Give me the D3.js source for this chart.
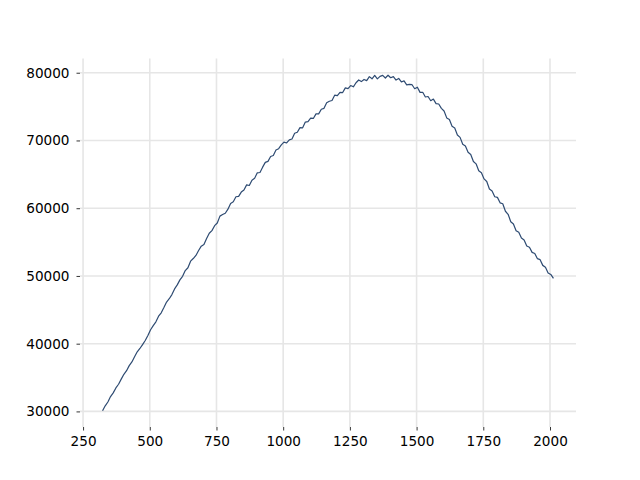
<!DOCTYPE html>
<html>
<head>
<meta charset="utf-8">
<script src="https://cdn.jsdelivr.net/npm/d3@7"></script>
<style>
  html, body { margin: 0; padding: 0; background: #fff; }
  svg { display: block; }
  .tick text { font-family: "DejaVu Sans", sans-serif; font-size: 13.6px; fill: #000; }
</style>
</head>
<body>
<svg id="chart" width="640" height="480"></svg>
<script>
// ---- data ----
const xValues = [
  323, 333, 343, 353, 363, 373, 383, 393, 403, 413,
  423, 433, 443, 453, 463, 473, 483, 493, 503, 513,
  523, 533, 543, 553, 563, 573, 583, 593, 603, 613,
  623, 633, 643, 653, 663, 673, 683, 693, 703, 713,
  723, 733, 743, 753, 763, 773, 783, 793, 803, 813,
  823, 833, 843, 853, 863, 873, 883, 893, 903, 913,
  923, 933, 943, 953, 963, 973, 983, 993, 1003, 1013,
  1023, 1033, 1043, 1053, 1063, 1073, 1083, 1093, 1103, 1113,
  1123, 1133, 1143, 1153, 1163, 1173, 1183, 1193, 1203, 1213,
  1223, 1233, 1243, 1253, 1263, 1273, 1283, 1293, 1303, 1313,
  1323, 1333, 1343, 1353, 1363, 1373, 1383, 1393, 1403, 1413,
  1423, 1433, 1443, 1453, 1463, 1473, 1483, 1493, 1503, 1513,
  1523, 1533, 1543, 1553, 1563, 1573, 1583, 1593, 1603, 1613,
  1623, 1633, 1643, 1653, 1663, 1673, 1683, 1693, 1703, 1713,
  1723, 1733, 1743, 1753, 1763, 1773, 1783, 1793, 1803, 1813,
  1823, 1833, 1843, 1853, 1863, 1873, 1883, 1893, 1903, 1913,
  1923, 1933, 1943, 1953, 1963, 1973, 1983, 1993, 2003, 2013
];
const yValues = [
  30100, 30830, 31390, 32190, 32740, 33470, 34010, 34770, 35480, 36010,
  36760, 37300, 38060, 38800, 39290, 39870, 40470, 41210, 42060, 42670,
  43230, 44060, 44560, 45330, 46150, 46640, 47250, 48080, 48680, 49420,
  49940, 50790, 51210, 52180, 52570, 53030, 53760, 54400, 54650, 55540,
  56310, 56690, 57420, 57820, 58830, 59060, 59260, 59860, 60710, 60960,
  61690, 61740, 62380, 62700, 63440, 63350, 64120, 64410, 65220, 65270,
  66060, 66760, 66910, 67630, 67790, 68580, 68790, 69340, 69750, 69630,
  70090, 70210, 71070, 71220, 71890, 71860, 72720, 72770, 73290, 73250,
  73930, 73930, 74610, 74740, 75580, 75790, 75900, 76690, 76610, 77100,
  77070, 77760, 77660, 78110, 77920, 78520, 78930, 78690, 79010, 78830,
  79420, 79100, 79610, 79100, 79470, 79610, 79220, 79630, 79260, 79430,
  78910, 79150, 78640, 78800, 78210, 78290, 78230, 77640, 77860, 77100,
  77120, 76420, 76490, 75870, 76110, 75440, 75380, 74740, 74350, 73330,
  73100, 72110, 71840, 70810, 70460, 69450, 69180, 68250, 67930, 66890,
  66550, 65530, 65240, 64320, 63940, 62830, 62530, 61690, 61600, 60790,
  60660, 59550, 59100, 58010, 57670, 56670, 56440, 55600, 55310, 54410,
  54230, 53480, 53310, 52550, 52400, 51560, 51300, 50440, 50220, 49650
];
const xTicks = [250, 500, 750, 1000, 1250, 1500, 1750, 2000];
const yTicks = [30000, 40000, 50000, 60000, 70000, 80000];

// ---- layout ----
const plotLeft = 80, plotRight = 576, plotTop = 58.5, plotBottom = 427;
const svg = d3.select("#chart");

const x = d3.scaleLinear().domain([238.5, 2097.5]).range([plotLeft, plotRight]);
const y = d3.scaleLinear().domain([27700, 82100]).range([plotBottom, plotTop]);

// grid
const grid = svg.append("g");
grid.selectAll("line.vg").data(xTicks).enter().append("line")
  .attr("class", "vg")
  .attr("x1", d => x(d)).attr("x2", d => x(d))
  .attr("y1", plotTop).attr("y2", plotBottom)
  .attr("stroke", "#e6e6e6").attr("stroke-width", 1.6);
grid.selectAll("line.hg").data(yTicks).enter().append("line")
  .attr("class", "hg")
  .attr("x1", plotLeft).attr("x2", plotRight)
  .attr("y1", d => y(d)).attr("y2", d => y(d))
  .attr("stroke", "#e6e6e6").attr("stroke-width", 1.6);

// axes
const xAxis = d3.axisBottom(x).tickValues(xTicks).tickSize(3.5).tickPadding(6).tickFormat(d3.format("d"));
const yAxis = d3.axisLeft(y).tickValues(yTicks).tickSize(3.5).tickPadding(7).tickFormat(d3.format("d"));

const gx = svg.append("g").attr("transform", `translate(0,${plotBottom})`).call(xAxis);
const gy = svg.append("g").attr("transform", `translate(${plotLeft},0)`).call(yAxis);
[gx, gy].forEach(g => {
  g.select(".domain").remove();
  g.selectAll(".tick line").attr("stroke", "#000").attr("stroke-width", 0.8);
});

// line
const pts = xValues.map((v, i) => [v, yValues[i]]);
svg.append("path")
  .datum(pts)
  .attr("fill", "none")
  .attr("stroke", "#2e4b72")
  .attr("stroke-width", 1.2)
  .attr("stroke-linejoin", "round")
  .attr("d", d3.line().x(d => x(d[0])).y(d => y(d[1])));
</script>
</body>
</html>
